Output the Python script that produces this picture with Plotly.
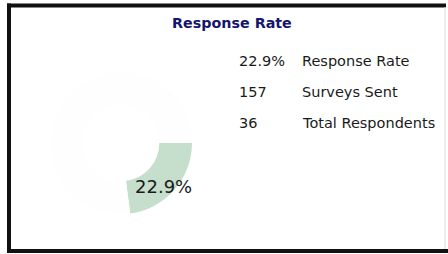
import plotly.graph_objects as go

title_text = "Response Rate"
slice_labels = ["Respondents", "Non-respondents"]
surveys_sent = 157
total_respondents = 36
response_rate = 22.9
table_values = [f"{response_rate}%", str(surveys_sent), str(total_respondents)]
table_labels = ["Response Rate", "Surveys Sent", "Total Respondents"]

W, H = 448, 254

def px(x):
    return x / W

def py(y):
    return 1 - y / H

cx, cy, R = 121, 143, 71

fig = go.Figure()
fig.add_trace(go.Pie(
    labels=slice_labels,
    values=[total_respondents, surveys_sent - total_respondents],
    hole=0.54,
    sort=False,
    direction="clockwise",
    rotation=90,
    textinfo="none",
    marker=dict(colors=["#c6dfcd", "#fefefe"], line=dict(width=0)),
    domain=dict(x=[px(cx - R), px(cx + R)], y=[py(cy + R), py(cy - R)]),
    showlegend=False,
))

annotations = [
    dict(text=f"<b>{title_text}</b>", x=px(232), y=py(23), xref="paper", yref="paper",
         xanchor="center", yanchor="middle", showarrow=False,
         font=dict(family="DejaVu Sans", size=14.3, color="#15156e")),
    dict(text=f"{response_rate}%", x=px(163), y=py(186), xref="paper", yref="paper",
         xanchor="center", yanchor="middle", showarrow=False,
         font=dict(family="DejaVu Sans", size=18, color="#1a1a1a")),
]
row_y = [61, 92, 123]
for v, lab, yy in zip(table_values, table_labels, row_y):
    annotations.append(dict(text=v, x=px(237), y=py(yy), xref="paper", yref="paper",
                            xanchor="left", yanchor="middle", showarrow=False,
                            font=dict(family="DejaVu Sans", size=14.5, color="#1a1a1a")))
    annotations.append(dict(text=lab, x=px(300), y=py(yy), xref="paper", yref="paper",
                            xanchor="left", yanchor="middle", showarrow=False,
                            font=dict(family="DejaVu Sans", size=14.5, color="#1a1a1a")))

border = "#111111"
shapes = [
    dict(type="line", xref="paper", yref="paper", x0=px(7), x1=px(446), y0=py(5.5), y1=py(5.5),
         line=dict(color=border, width=4)),
    dict(type="line", xref="paper", yref="paper", x0=px(7), x1=px(448), y0=py(251), y1=py(251),
         line=dict(color=border, width=4)),
    dict(type="line", xref="paper", yref="paper", x0=px(9), x1=px(9), y0=py(3.5), y1=py(253),
         line=dict(color=border, width=4)),
    dict(type="line", xref="paper", yref="paper", x0=px(445), x1=px(445), y0=py(7), y1=py(249),
         line=dict(color="#dddddd", width=1)),
]

fig.update_layout(
    width=W, height=H,
    margin=dict(l=0, r=0, t=0, b=0),
    paper_bgcolor="white",
    plot_bgcolor="white",
    annotations=annotations,
    shapes=shapes,
)

fig.write_html("out.html", config={"displayModeBar": False},
               post_script="document.body.style.margin='0';document.body.style.overflow='hidden';")
